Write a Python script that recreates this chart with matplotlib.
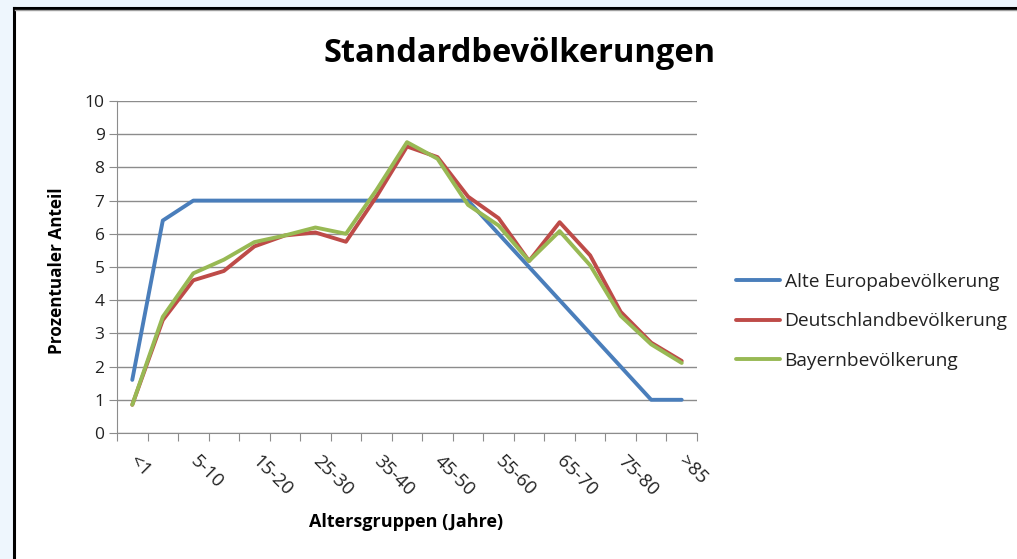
import matplotlib
matplotlib.use("Agg")
import matplotlib.pyplot as plt
from matplotlib.patches import Rectangle
from matplotlib.lines import Line2D

categories = ["<1", "1-5", "5-10", "10-15", "15-20", "20-25", "25-30", "30-35", "35-40",
              "40-45", "45-50", "50-55", "55-60", "60-65", "65-70", "70-75", "75-80",
              "80-85", ">85"]
europa = [1.6, 6.4, 7, 7, 7, 7, 7, 7, 7, 7, 7, 7, 6, 5, 4, 3, 2, 1, 1]
deutschland = [0.85, 3.4, 4.6, 4.88, 5.62, 5.95, 6.04, 5.76, 7.12, 8.63, 8.31, 7.12,
               6.47, 5.18, 6.35, 5.35, 3.65, 2.72, 2.17]
bayern = [0.85, 3.5, 4.81, 5.22, 5.75, 5.95, 6.19, 6.0, 7.32, 8.76, 8.26, 6.87,
          6.25, 5.18, 6.08, 5.05, 3.53, 2.67, 2.11]
series_names = ["Alte Europabevölkerung", "Deutschlandbevölkerung", "Bayernbevölkerung"]
colors = ["#4a7ebb", "#be4b48", "#98b954"]

W, H = 1017, 559
fig = plt.figure(figsize=(W / 100, H / 100), dpi=100)
fig.patch.set_facecolor("#eef6fd")

# white panel with dark border
panel = Rectangle((14 / W, 0), 1 - 14 / W, 1 - 8 / H, transform=fig.transFigure,
                  facecolor="white", edgecolor="none", zorder=-10)
fig.patches.append(panel)
fig.lines.append(Line2D([14 / W, 14 / W], [0, 1 - 8 / H], transform=fig.transFigure,
                        color="black", lw=2.2, zorder=-5))
fig.lines.append(Line2D([14 / W, 1], [1 - 8 / H, 1 - 8 / H], transform=fig.transFigure,
                        color="black", lw=2.2, zorder=-5))
fig.lines.append(Line2D([15 / W, 1], [1 - 10 / H, 1 - 10 / H], transform=fig.transFigure,
                        color="#a0a0a0", lw=1.0, zorder=-5))

x0, x1, y0, y1 = 117, 697, 101, 433
ax = fig.add_axes([x0 / W, 1 - y1 / H, (x1 - x0) / W, (y1 - y0) / H])
ax.set_facecolor("white")

xs = list(range(len(categories)))
for vals, c, name in zip([europa, deutschland, bayern], colors, series_names):
    ax.plot(xs, vals, color=c, lw=2.8, label=name, solid_capstyle="round",
            solid_joinstyle="round")

ax.set_xlim(-0.5, len(categories) - 0.5)
ax.set_ylim(0, 10)
ax.set_yticks(range(0, 11))
ax.yaxis.grid(True, color="#8c8c8c", lw=1.0)
ax.set_axisbelow(True)
for s in ["top", "right"]:
    ax.spines[s].set_visible(False)
ax.spines["left"].set_color("#8c8c8c")
ax.spines["bottom"].set_color("#8c8c8c")
ax.tick_params(axis="y", length=6, color="#8c8c8c", labelsize=12.5, labelcolor="#222222", pad=3)

# category boundary ticks on x
ax.set_xticks([i - 0.5 for i in range(len(categories) + 1)])
ax.set_xticklabels([])
ax.tick_params(axis="x", length=6, color="#8c8c8c")
for i, lab in enumerate(categories):
    if i % 2 == 0:
        ax.annotate(lab, xy=(i, 0), xycoords=("data", "axes fraction"),
                    xytext=(-4.5, -13.7), textcoords="offset points",
                    rotation=-45, ha="left", va="top", rotation_mode="default",
                    fontsize=13.5, color="#222222", family="Open Sans")

for t in ax.get_yticklabels():
    t.set_family("Open Sans")

fig.text(520 / W, 1 - 53 / H, "Standardbevölkerungen", ha="center", va="center",
         fontsize=23.5, fontweight="bold", family="Open Sans", color="black")
fig.text(57 / W, 1 - 271 / H, "Prozentualer Anteil", ha="center", va="center",
         rotation=90, fontsize=12.3, fontweight="bold", family="Open Sans", color="black")
fig.text(406 / W, 1 - 522 / H, "Altersgruppen (Jahre)", ha="center", va="center",
         fontsize=13, fontweight="bold", family="Open Sans", color="black")

leg = ax.legend(loc="upper left", bbox_to_anchor=(730 / W, 1 - 267 / H),
                bbox_transform=fig.transFigure, frameon=False,
                prop={"family": "Open Sans", "size": 13.8}, handlelength=2.3,
                handletextpad=0.25, labelspacing=1.12, borderaxespad=0, borderpad=0.3)
for t in leg.get_texts():
    t.set_color("#222222")

fig.savefig("out.png", dpi=100, facecolor=fig.get_facecolor())
